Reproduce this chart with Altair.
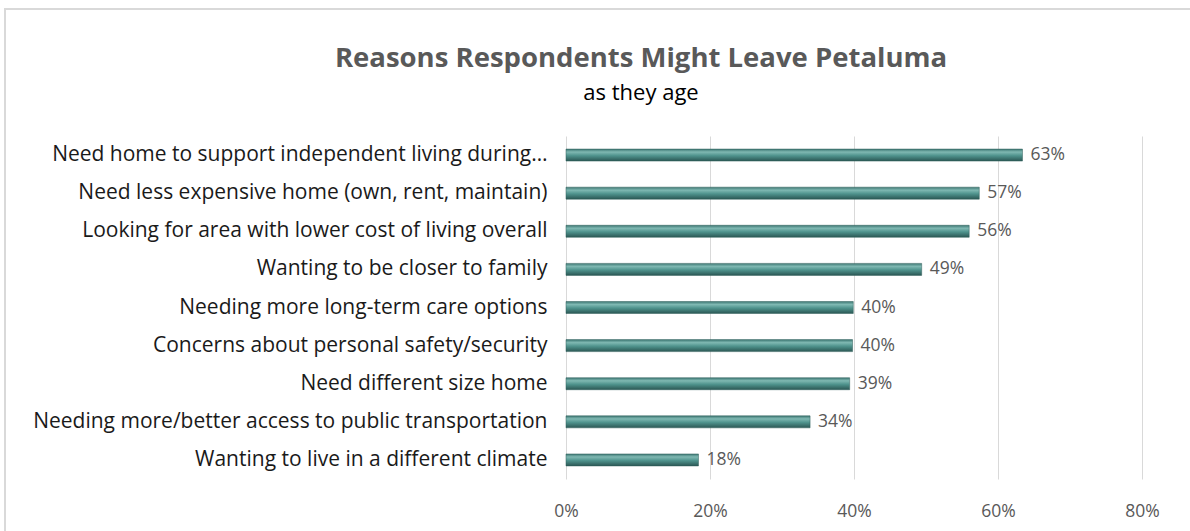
import altair as alt
import pandas as pd

reasons = [
    "Need home to support independent living during…",
    "Need less expensive home (own, rent, maintain)",
    "Looking for area with lower cost of living overall",
    "Wanting to be closer to family",
    "Needing more long-term care options",
    "Concerns about personal safety/security",
    "Need different size home",
    "Needing more/better access to public transportation",
    "Wanting to live in a different climate",
]
shares = [0.634, 0.574, 0.560, 0.494, 0.399, 0.398, 0.394, 0.339, 0.184]
tick_values = [0, 0.2, 0.4, 0.6, 0.8]
title_text = "Reasons Respondents Might Leave Petaluma"
subtitle_text = "as they age"

df = pd.DataFrame({"reason": reasons, "share": shares})
one = pd.DataFrame({"title": [title_text], "subtitle": [subtitle_text]})

LEFT, TOP = 566, 136
W, H = 576, 343

y_enc = alt.Y("reason:N", sort=reasons, title=None,
              axis=alt.Axis(labelFont="Open Sans", labelFontSize=21, labelColor="#1a1a1a",
                            labelPadding=19, labelLimit=600, ticks=False, domain=False))
x_enc = alt.X("share:Q", title=None,
              scale=alt.Scale(domain=[0, 0.8], nice=False),
              axis=alt.Axis(values=tick_values, format=".0%", labelFont="Open Sans",
                            labelFontSize=17.5, labelColor="#595959", labelPadding=23,
                            ticks=False, domain=False, grid=True, gridColor="#d9d9d9",
                            labelFlush=False))

frame = alt.Chart(one).mark_rect(fill="transparent", stroke="#d9d9d9", strokeWidth=2).encode(
    x=alt.value(5 - LEFT), x2=alt.value(1190 - LEFT + 10),
    y=alt.value(9 - TOP), y2=alt.value(531 - TOP + 20))

title = alt.Chart(one).mark_text(align="center", baseline="alphabetic", font="Open Sans",
                                 fontSize=27.5, fontWeight="bold", color="#595959").encode(
    x=alt.value(641 - LEFT), y=alt.value(67 - TOP), text="title:N")
subtitle = alt.Chart(one).mark_text(align="center", baseline="alphabetic", font="Open Sans",
                                    fontSize=22, color="#000000").encode(
    x=alt.value(641 - LEFT), y=alt.value(100 - TOP), text="subtitle:N")

bars = alt.Chart(df).mark_bar(
    size=12,
    color=alt.Gradient(
        gradient="linear", x1=0, x2=0, y1=0, y2=1,
        stops=[alt.GradientStop(offset=0, color="#3d7773"),
               alt.GradientStop(offset=0.25, color="#7fb8b2"),
               alt.GradientStop(offset=0.55, color="#4f938d"),
               alt.GradientStop(offset=1, color="#2b5754")]),
    stroke="#2f5f5b", strokeWidth=0.5,
).encode(x=x_enc, y=y_enc)

labels = alt.Chart(df).mark_text(align="left", baseline="middle", dx=8,
                                 font="Open Sans", fontSize=17.5, color="#595959").encode(
    x="share:Q", y=alt.Y("reason:N", sort=reasons),
    text=alt.Text("share:Q", format=".0%"))

chart = alt.layer(frame, bars, labels, title, subtitle).properties(
    width=W, height=H,
    padding={"left": LEFT, "top": TOP, "right": 1190 - LEFT - W, "bottom": 531 - TOP - H},
    autosize=alt.AutoSizeParams(type="none"),
).configure(background="white").configure_view(stroke=None)

chart.save("out.html", embed_options={"renderer": "svg", "actions": False})
